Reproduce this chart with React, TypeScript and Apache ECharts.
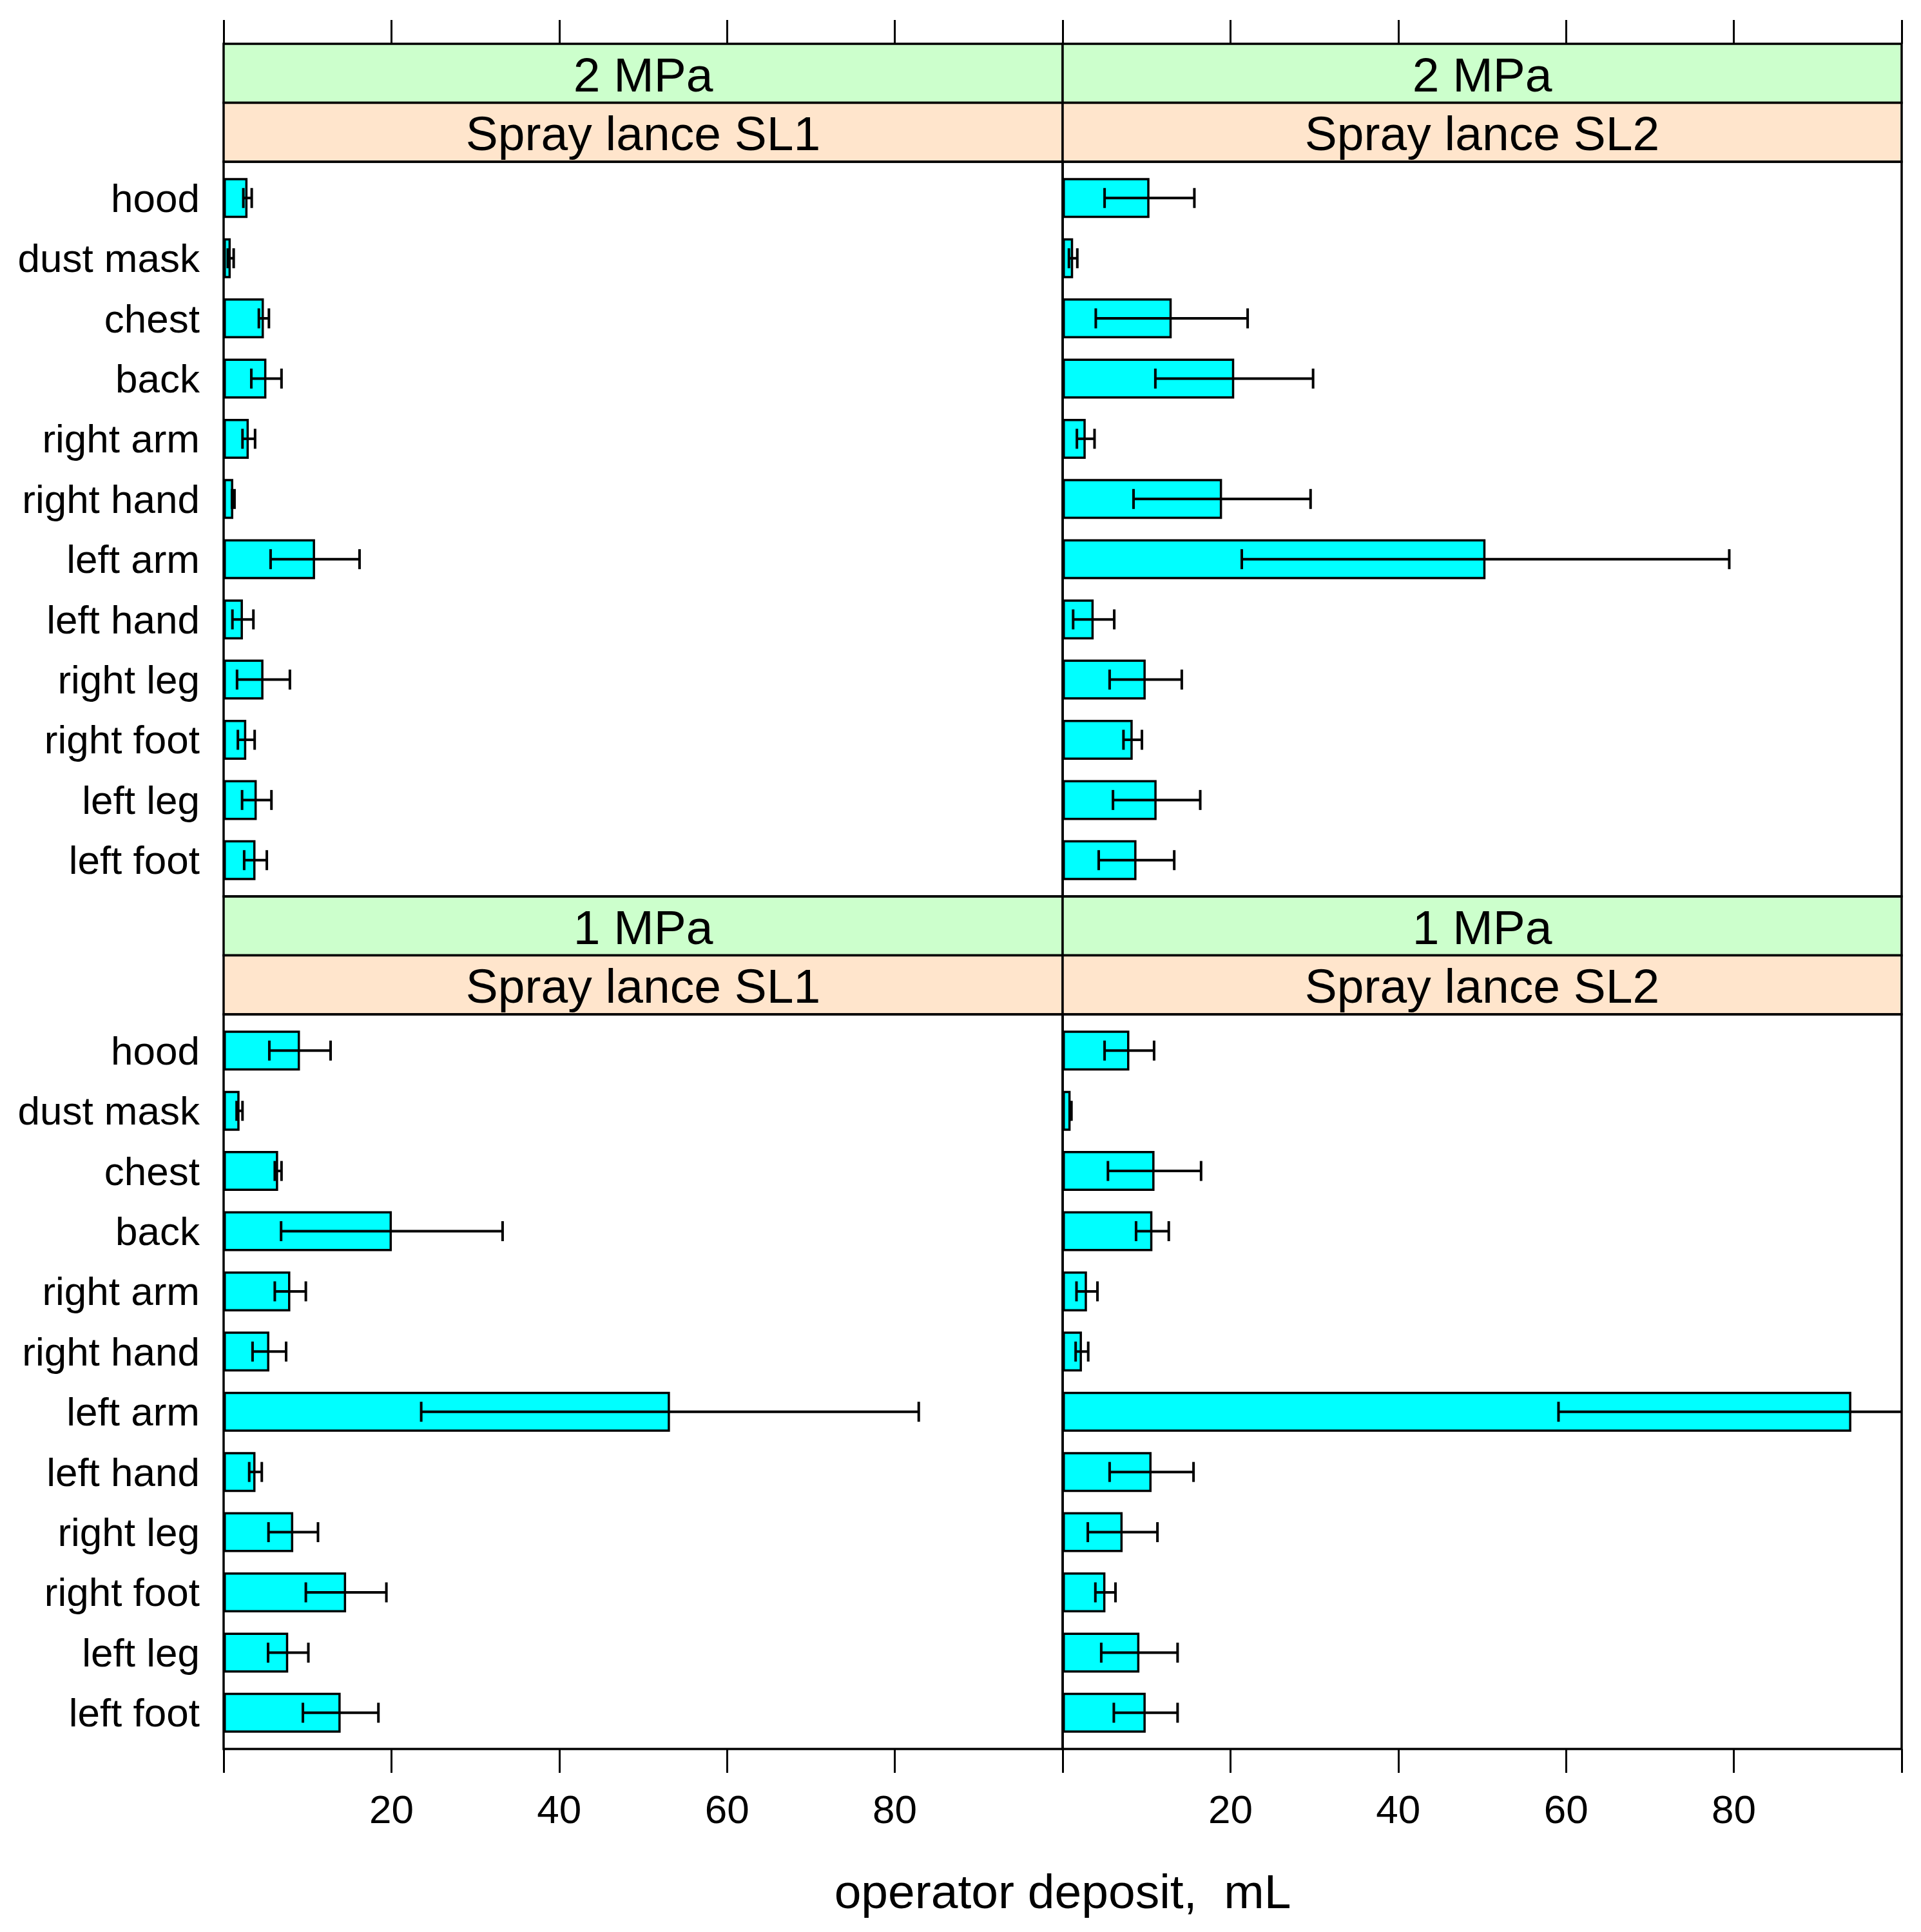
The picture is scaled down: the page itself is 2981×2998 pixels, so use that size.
import React, { useEffect, useRef } from "react";
import * as echarts from "echarts";

const categories = [
  "hood", "dust mask", "chest", "back", "right arm", "right hand",
  "left arm", "left hand", "right leg", "right foot", "left leg", "left foot",
];

// 2 MPa, Spray lance SL1
const sl1_2mpa_mean = [2.85, 0.85, 4.8, 5.1, 3.0, 1.15, 10.9, 2.3, 4.75, 2.7, 3.95, 3.8];
const sl1_2mpa_sd = [0.5, 0.35, 0.6, 1.8, 0.75, 0.15, 5.3, 1.25, 3.15, 1.0, 1.75, 1.35];
// 2 MPa, Spray lance SL2
const sl2_2mpa_mean = [10.35, 1.25, 13.0, 20.45, 2.75, 19.0, 50.4, 3.7, 9.9, 8.35, 11.2, 8.8];
const sl2_2mpa_sd = [5.35, 0.5, 9.05, 9.4, 1.05, 10.55, 29.05, 2.45, 4.3, 1.1, 5.2, 4.5];
// 1 MPa, Spray lance SL1
const sl1_1mpa_mean = [9.1, 1.9, 6.5, 20.05, 7.95, 5.45, 53.2, 3.8, 8.3, 14.6, 7.7, 13.95];
const sl1_1mpa_sd = [3.65, 0.35, 0.4, 13.2, 1.85, 2.0, 29.65, 0.75, 2.95, 4.8, 2.4, 4.5];
// 1 MPa, Spray lance SL2
const sl2_1mpa_mean = [7.95, 0.95, 10.95, 10.7, 2.9, 2.3, 94.0, 10.6, 7.15, 5.1, 9.15, 9.9];
const sl2_1mpa_sd = [2.95, 0.1, 5.55, 1.95, 1.25, 0.75, 34.9, 5.0, 4.15, 1.2, 4.55, 3.8];

const pressureLabels = ["2 MPa", "1 MPa"];
const lanceLabels = ["Spray lance SL1", "Spray lance SL2"];
const xTicks = { min: 0, max: 100, interval: 20 };
const xTitle = "operator deposit,  mL";

const FONT = "Liberation Sans, Arial, Helvetica, sans-serif";

export default function App() {
  const ref = useRef<HTMLDivElement | null>(null);

  useEffect(() => {
    if (!ref.current) return;
    const chart = echarts.init(ref.current, null, { renderer: "svg" });

    const panelLeft = [347, 1649];
    const panelW = 1302;
    const rowTop = [68, 1391];
    const stripH = 91.5;
    const dataH = 1140;
    const pad = 9.5;
    const gridH = dataH - 2 * pad;
    const frameW = 3.5;

    const panels = [
      { r: 0, c: 0, mean: sl1_2mpa_mean, sd: sl1_2mpa_sd },
      { r: 0, c: 1, mean: sl2_2mpa_mean, sd: sl2_2mpa_sd },
      { r: 1, c: 0, mean: sl1_1mpa_mean, sd: sl1_1mpa_sd },
      { r: 1, c: 1, mean: sl2_1mpa_mean, sd: sl2_1mpa_sd },
    ];

    const grids: any[] = [];
    const xAxes: any[] = [];
    const yAxes: any[] = [];
    const series: any[] = [];
    const graphics: any[] = [];

    panels.forEach((p, i) => {
      const left = panelLeft[p.c];
      const top = rowTop[p.r];
      const dataTop = top + 2 * stripH;
      grids.push({ left, top: dataTop + pad, width: panelW, height: gridH });

      const isTop = p.r === 0;
      xAxes.push({
        type: "value",
        gridIndex: i,
        min: xTicks.min,
        max: xTicks.max,
        interval: xTicks.interval,
        position: isTop ? "top" : "bottom",
        offset: isTop ? dataTop + pad - top : pad,
        axisLine: { show: false },
        splitLine: { show: false },
        axisTick: {
          show: true,
          length: 37,
          lineStyle: { color: "#000", width: 3 },
        },
        axisLabel: {
          show: !isTop,
          margin: 62,
          fontSize: 62,
          fontFamily: FONT,
          color: "#000",
          formatter: (v: number) => (v === xTicks.min || v === xTicks.max ? "" : String(v)),
        },
      });

      yAxes.push({
        type: "category",
        gridIndex: i,
        data: categories,
        inverse: true,
        axisLine: { show: false },
        axisTick: { show: false },
        splitLine: { show: false },
        axisLabel: {
          show: p.c === 0,
          margin: 37,
          fontSize: 62,
          fontFamily: FONT,
          color: "#000",
          interval: 0,
        },
      });

      series.push({
        type: "bar",
        xAxisIndex: i,
        yAxisIndex: i,
        data: p.mean,
        barWidth: 62,
        itemStyle: { color: "#00FFFF", borderColor: "#000", borderWidth: 3.5 },
        z: 2,
      });

      series.push({
        type: "custom",
        xAxisIndex: i,
        yAxisIndex: i,
        clip: true,
        z: 3,
        encode: { x: [0, 1], y: 2 },
        data: p.mean.map((m, k) => [m - p.sd[k], m + p.sd[k], k]),
        renderItem: (params: any, api: any) => {
          const lo = api.coord([api.value(0), api.value(2)]);
          const hi = api.coord([api.value(1), api.value(2)]);
          const y = lo[1];
          const style = { stroke: "#000", lineWidth: 4, fill: "none" };
          return {
            type: "group",
            children: [
              { type: "line", shape: { x1: lo[0], y1: y, x2: hi[0], y2: y }, style },
              { type: "line", shape: { x1: lo[0], y1: y - 15.5, x2: lo[0], y2: y + 15.5 }, style },
              { type: "line", shape: { x1: hi[0], y1: y - 15.5, x2: hi[0], y2: y + 15.5 }, style },
            ],
          };
        },
      });

      // strips
      graphics.push({
        type: "rect",
        shape: { x: left, y: top, width: panelW, height: stripH },
        style: { fill: "#CCFFCC", stroke: "#000", lineWidth: frameW },
        z: 10,
      });
      graphics.push({
        type: "rect",
        shape: { x: left, y: top + stripH, width: panelW, height: stripH },
        style: { fill: "#FFE5CC", stroke: "#000", lineWidth: frameW },
        z: 10,
      });
      graphics.push({
        type: "rect",
        shape: { x: left, y: dataTop, width: panelW, height: dataH },
        style: { fill: "none", stroke: "#000", lineWidth: frameW },
        z: 100,
      });
      graphics.push({
        type: "text",
        x: left + panelW / 2,
        y: top + stripH / 2 + 2,
        z: 11,
        style: {
          text: pressureLabels[p.r],
          fontSize: 75,
          fontFamily: FONT,
          fill: "#000",
          textAlign: "center",
          textVerticalAlign: "middle",
          align: "center",
          verticalAlign: "middle",
        },
      });
      graphics.push({
        type: "text",
        x: left + panelW / 2,
        y: top + stripH * 1.5 + 2,
        z: 11,
        style: {
          text: lanceLabels[p.c],
          fontSize: 75,
          fontFamily: FONT,
          fill: "#000",
          textAlign: "center",
          textVerticalAlign: "middle",
          align: "center",
          verticalAlign: "middle",
        },
      });
    });

    graphics.push({
      type: "text",
      x: panelLeft[1],
      y: 2935,
      style: {
        text: xTitle,
        fontSize: 75,
        fontFamily: FONT,
        fill: "#000",
        textAlign: "center",
        textVerticalAlign: "middle",
        align: "center",
        verticalAlign: "middle",
      },
    });

    chart.setOption({
      animation: false,
      backgroundColor: "#fff",
      grid: grids,
      xAxis: xAxes,
      yAxis: yAxes,
      series,
      graphic: { elements: graphics },
    });

    return () => chart.dispose();
  }, []);

  return (
    <div
      ref={ref}
      style={{ position: "fixed", left: 0, top: 0, width: 2981, height: 2998, background: "#fff" }}
    />
  );
}
